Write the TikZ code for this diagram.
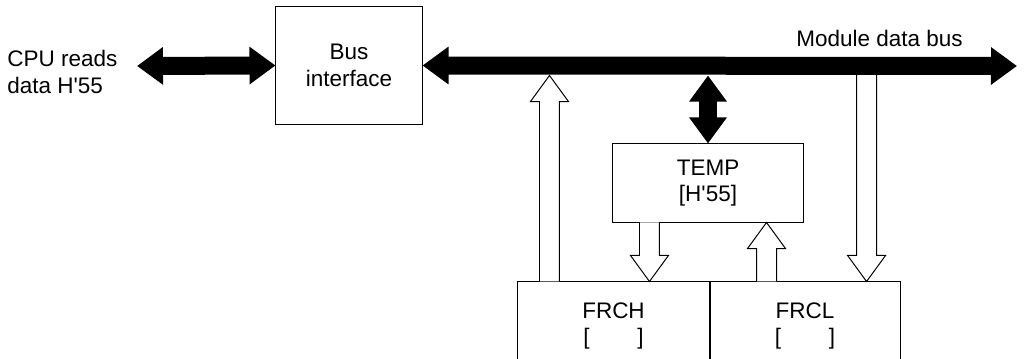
\documentclass[tikz,border=0pt]{standalone}
\usepackage{fontspec}
\setmainfont{Liberation Sans}
\usepackage{tikz}
\usetikzlibrary{arrows.meta,calc}

\tikzset{
  regbox/.style={draw, line width=0.7pt, align=center, inner sep=0pt},
  busline/.style={line width=12.8pt,
    {Triangle[length=18.5pt,width=25.6pt]}-{Triangle[length=18.5pt,width=25.6pt]}},
  hollowarr/.style={draw, line width=0.7pt, fill=white}
}

% hollow block arrow from #1 (foot) to #2 (tip), vertical
\newcommand{\hollowarrow}[2]{%
  \path[hollowarr] let \p1=#1, \p2=#2, \p3=($#2!18.5pt!#1$) in
    (\x1-7.1pt,\y1) -- (\x1-7.1pt,\y3) -- (\x1-13.5pt,\y3) -- (\x2,\y2)
    -- (\x1+13.5pt,\y3) -- (\x1+7.1pt,\y3) -- (\x1+7.1pt,\y1);}

\begin{document}
\begin{tikzpicture}[x=0.025cm, y=-0.025cm, font=\fontsize{16}{19}\selectfont]
  \clip (0,0) rectangle (1026,359);
  % ===== boxes =====
  \node[regbox, minimum width=3.65cm, minimum height=2.925cm] (busif) at (349,65.5) {Bus\\interface};
  \node[regbox, minimum width=4.75cm, minimum height=1.95cm] (temp) at (708,183) {TEMP\\{[H\textquotesingle 55]}};
  \node[regbox, minimum width=4.775cm, minimum height=2.2cm] (frch) at (613.5,326) {FRCH\\{[\hspace{34pt}]}};
  \node[regbox, minimum width=4.75cm, minimum height=2.2cm, anchor=west] (frcl) at (frch.east) {FRCL\\{[\hspace{34pt}]}};
  % ===== labels =====
  \node[align=left, anchor=west, inner sep=0pt] (cpu) at (7,72) {CPU reads\\data H\textquotesingle 55};
  \node[anchor=base east, inner sep=0pt] (buslabel) at (963,47) {Module data bus};
  % ===== bus coordinates =====
  \coordinate (cpuend) at (137,66);
  \coordinate (busend) at (1017,66);
  \coordinate (busbot) at (0,75.5);
  \coordinate (chup) at ($(frch.north west)+(32,0)$);
  \coordinate (tdn) at ($(temp.south west)+(37,0)$);
  \coordinate (lup) at ($(frcl.north west)+(57,0)$);
  \coordinate (ldn) at ($(frcl.north east)+(-34,0)$);
  % ===== hollow transfer arrows =====
  \hollowarrow{(chup)}{(chup |- busbot)}
  \hollowarrow{(tdn)}{(tdn |- frch.north)}
  \hollowarrow{(lup)}{(lup |- temp.south)}
  \hollowarrow{(ldn |- busif.east)}{(ldn)}
  % ===== black buses =====
  \draw[busline] (cpuend) -- (busif.west);
  \draw[busline] (busif.east) -- (busend);
  \draw[busline] (temp.north) -- (temp.north |- busbot);
\end{tikzpicture}
\end{document}
